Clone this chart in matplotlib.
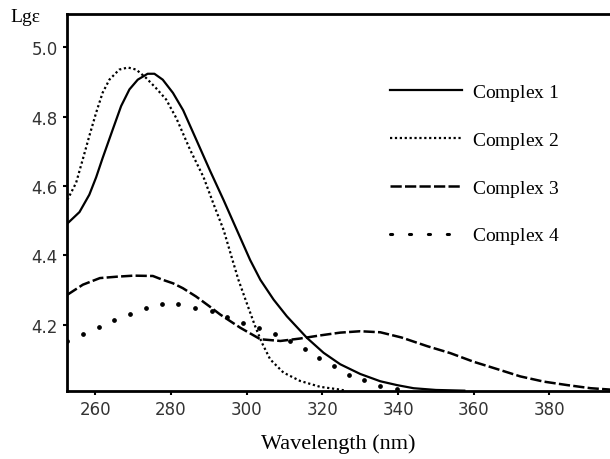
import matplotlib
matplotlib.use("Agg")
import matplotlib.pyplot as plt

plt.rcParams["mathtext.fontset"] = "custom"
plt.rcParams["mathtext.it"] = "Liberation Serif:italic"
plt.rcParams["mathtext.rm"] = "Liberation Serif"

# Complex 1 (solid)
wl1 = [252.6, 255.8, 258.4, 260.2, 261.9, 264.6, 266.8, 269.0, 271.2, 273.8, 275.6,
       277.8, 280.5, 283.2, 286.8, 290.3, 293.9, 297.4, 300.9, 303.6, 307.1, 310.6,
       315.9, 320.3, 324.7, 330.0, 335.3, 339.7, 344.1, 350.0, 357.5]
lg1 = [4.492, 4.525, 4.575, 4.625, 4.68, 4.763, 4.83, 4.878, 4.906, 4.923, 4.923,
       4.906, 4.868, 4.818, 4.73, 4.644, 4.559, 4.473, 4.387, 4.33, 4.273, 4.225,
       4.163, 4.12, 4.087, 4.059, 4.038, 4.027, 4.018, 4.013, 4.011]

# Complex 2 (dense dots)
wl2 = [252.6, 254.9, 256.7, 258.4, 260.2, 261.9, 263.7, 266.3, 268.6, 270.8, 273.4,
       276.0, 278.7, 281.4, 285.0, 288.6, 291.2, 293.9, 296.1, 297.8, 300.0, 302.2,
       304.0, 306.2, 309.7, 314.1, 319.4, 324.7, 326.0]
lg2 = [4.56, 4.609, 4.678, 4.744, 4.811, 4.868, 4.906, 4.935, 4.941, 4.935, 4.911,
       4.882, 4.849, 4.795, 4.705, 4.625, 4.549, 4.473, 4.392, 4.33, 4.263, 4.197,
       4.149, 4.101, 4.063, 4.039, 4.022, 4.014, 4.011]

# Complex 3 (dashed)
wl3 = [252.6, 256.7, 261.2, 265.7, 270.1, 275.2, 277.8, 280.5, 283.1, 286.6, 290.1,
       293.0, 298.3, 303.6, 308.9, 314.1, 319.4, 324.7, 330.0, 335.3, 340.9, 347.7,
       353.8, 360.0, 366.2, 372.3, 378.5, 384.7, 390.9, 396.2]
lg3 = [4.287, 4.316, 4.335, 4.339, 4.342, 4.341, 4.33, 4.32, 4.306, 4.282, 4.254,
       4.23, 4.192, 4.159, 4.154, 4.161, 4.17, 4.178, 4.182, 4.179, 4.164, 4.139,
       4.119, 4.094, 4.073, 4.052, 4.037, 4.027, 4.018, 4.014]

# Complex 4 (sparse dots, one per sampled point)
wl4 = [252.6, 256.8, 260.9, 265.0, 269.1, 273.3, 277.6, 281.9, 286.3, 290.7, 294.9,
       299.0, 303.2, 307.4, 311.5, 315.5, 319.2, 323.0, 326.9, 331.1, 335.3, 339.6]
lg4 = [4.153, 4.173, 4.194, 4.213, 4.233, 4.248, 4.259, 4.259, 4.25, 4.239, 4.224,
       4.206, 4.19, 4.174, 4.155, 4.132, 4.106, 4.081, 4.057, 4.042, 4.025, 4.016]

labels = ["Complex $\\mathit{1}$", "Complex $\\mathit{2}$",
          "Complex $\\mathit{3}$", "Complex $\\mathit{4}$"]
xticks = [260, 280, 300, 320, 340, 360, 380]
yticks = [4.2, 4.4, 4.6, 4.8, 5.0]

fig = plt.figure(figsize=(6.10, 4.60), dpi=100)
ax = fig.add_axes([67 / 610, 68 / 460, 1 - 67 / 610, (392 - 15) / 460])

ax.plot(wl1, lg1, color="black", lw=1.6, label=labels[0])
ax.plot(wl2, lg2, color="black", lw=1.6, linestyle=(0, (1, 1.2)), label=labels[1])
ax.plot(wl3, lg3, color="black", lw=1.8, linestyle=(0, (4.5, 1.3)), label=labels[2])
ax.plot(wl4, lg4, color="black", lw=0, marker="o", markersize=2.4,
        label=labels[3])

ax.set_xlim(252.5, 396)
ax.set_ylim(4.01, 5.095)
ax.set_xticks(xticks)
ax.set_yticks(yticks)
ax.set_yticklabels([f"{v:.1f}" for v in yticks])
ax.tick_params(direction="out", length=3, width=1.5, colors="black",
               labelcolor="#333333", labelsize=12)
for lab in ax.get_xticklabels() + ax.get_yticklabels():
    lab.set_family(["Liberation Sans Narrow", "DejaVu Sans"])

for side in ["left", "bottom", "top"]:
    ax.spines[side].set_linewidth(2)
ax.spines["right"].set_visible(False)

ax.set_xlabel("Wavelength (nm)", family="Liberation Serif", fontsize=16, labelpad=11)
fig.text(10 / 610, 1 - 18 / 460, "Lgε", family="Liberation Serif", fontsize=14,
         va="center", ha="left")

# legend: the sparse-dot entry gets a dotted handle like in the original
leg = ax.legend(loc="upper left", bbox_to_anchor=(390 / 610, 1 - 83 / 460),
                bbox_transform=fig.transFigure, frameon=False, handlelength=3.7,
                handletextpad=0.5, labelspacing=1.38, borderpad=0, borderaxespad=0,
                prop={"family": "Liberation Serif", "size": 14})
h4 = leg.get_lines()[3]
h4.set_linestyle((0, (0.7, 5.5)))
h4.set_linewidth(2.2)
h4.set_dash_capstyle("round")
h4.set_marker("None")

fig.savefig("out.png", dpi=100)
